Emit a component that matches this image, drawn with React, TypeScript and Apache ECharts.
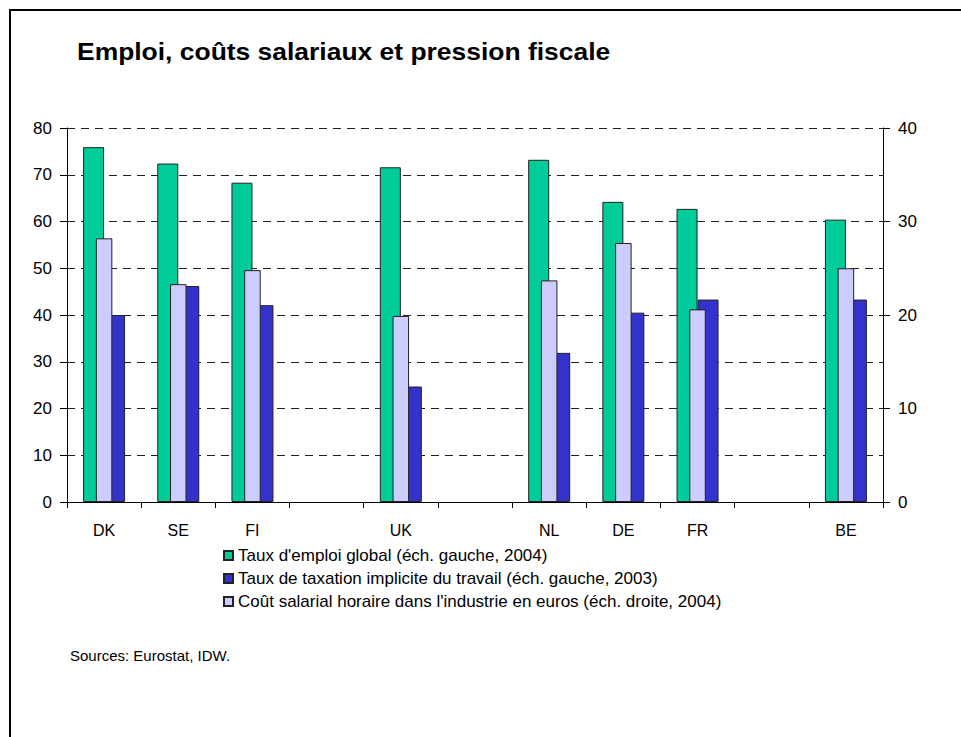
import React, { useEffect, useRef } from "react";
import * as echarts from "echarts";

const categories = ["DK", "SE", "FI", "", "UK", "", "NL", "DE", "FR", "", "BE"];
const tauxEmploi = [75.9, 72.4, 68.3, null, 71.6, null, 73.2, 64.2, 62.7, null, 60.4];
const tauxTaxation = [40.0, 46.2, 42.1, null, 24.7, null, 31.9, 40.5, 43.3, null, 43.3];
const coutSalarial = [28.2, 23.3, 24.8, null, 19.9, null, 23.7, 27.7, 20.6, null, 25.0];

const nameEmploi = "Taux d'emploi global (éch. gauche, 2004)";
const nameTaxation = "Taux de taxation implicite du travail (éch. gauche, 2003)";
const nameCout = "Coût salarial horaire dans l'industrie en euros (éch. droite, 2004)";

const FONT = "'Liberation Sans', Arial, sans-serif";

export default function App() {
  const ref = useRef<HTMLDivElement>(null);
  useEffect(() => {
    if (!ref.current) return;
    const chart = echarts.init(ref.current, null, { renderer: "svg" });
    const border = { borderColor: "#222", borderWidth: 1 };
    chart.setOption({
      animation: false,
      backgroundColor: "#fff",
      textStyle: { fontFamily: FONT, color: "#000" },
      legend: {
        orient: "vertical",
        left: 223,
        top: 547,
        padding: 0,
        icon: "rect",
        itemWidth: 9,
        itemHeight: 9,
        itemGap: 6,
        itemTextGap: 3,
        data: [nameEmploi, nameTaxation, nameCout],
        textStyle: { fontFamily: FONT, fontSize: 17, color: "#000" },
      },
      grid: { left: 67, right: 78, top: 128, height: 374, containLabel: false },
      xAxis: [
        {
          type: "category",
          data: categories,
          position: "bottom",
          axisLine: { lineStyle: { color: "#000", width: 1 } },
          axisTick: { show: true, length: 6, lineStyle: { color: "#000" } },
          axisLabel: { fontFamily: FONT, fontSize: 16, color: "#000", margin: 20, interval: 0 },
        },
        {
          type: "category",
          data: categories,
          show: false,
        },
      ],
      yAxis: [
        {
          type: "value",
          min: 0,
          max: 80,
          interval: 10,
          axisLine: { show: true, lineStyle: { color: "#000" } },
          axisTick: { show: true, length: 7, lineStyle: { color: "#000" } },
          axisLabel: { fontFamily: FONT, fontSize: 17, color: "#000", margin: 15 },
          splitLine: { show: true, lineStyle: { color: "#222", type: [8, 6], width: 1 } },
        },
        {
          type: "value",
          min: 0,
          max: 40,
          interval: 10,
          position: "right",
          axisLine: { show: true, lineStyle: { color: "#000" } },
          axisTick: { show: true, length: 7, lineStyle: { color: "#000" } },
          axisLabel: { fontFamily: FONT, fontSize: 17, color: "#000", margin: 15 },
          splitLine: { show: false },
        },
      ],
      series: [
        {
          name: nameEmploi,
          type: "bar",
          xAxisIndex: 0,
          yAxisIndex: 0,
          data: tauxEmploi,
          barWidth: 21,
          barGap: "0%",
          itemStyle: { color: "#00CC99", ...border },
        },
        {
          name: nameTaxation,
          type: "bar",
          xAxisIndex: 0,
          yAxisIndex: 0,
          data: tauxTaxation,
          barWidth: 21,
          barGap: "0%",
          itemStyle: { color: "#3333CC", ...border },
        },
        {
          name: nameCout,
          type: "bar",
          xAxisIndex: 1,
          yAxisIndex: 1,
          data: coutSalarial,
          barWidth: 16.5,
          z: 3,
          itemStyle: { color: "#CCCCFF", ...border },
        },
      ],
      graphic: [
        {
          type: "line",
          shape: { x1: 9, y1: 10, x2: 961, y2: 10 },
          style: { stroke: "#000", lineWidth: 2 },
        },
        {
          type: "line",
          shape: { x1: 10, y1: 9, x2: 10, y2: 737 },
          style: { stroke: "#000", lineWidth: 2 },
        },
        {
          type: "text",
          x: 77,
          y: 52,
          scaleX: 1.15,
          style: {
            text: "Emploi, coûts salariaux et pression fiscale",
            fontFamily: FONT,
            fontSize: 23,
            fontWeight: "bold",
            fill: "#000",
            verticalAlign: "middle",
            align: "left",
          },
        },
        {
          type: "text",
          x: 70,
          y: 655,
          style: {
            text: "Sources: Eurostat, IDW.",
            fontFamily: FONT,
            fontSize: 15,
            fill: "#000",
            verticalAlign: "middle",
            align: "left",
          },
        },
      ],
    });
    return () => chart.dispose();
  }, []);
  return (
    <div
      ref={ref}
      style={{ position: "absolute", left: 0, top: 0, width: 961, height: 737 }}
    />
  );
}
